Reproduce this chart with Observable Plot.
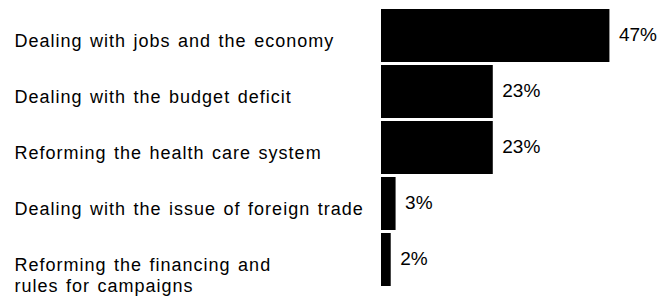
<!DOCTYPE html>
<html>
<head>
<meta charset="utf-8">
<script src="https://cdn.jsdelivr.net/npm/d3@7"></script>
<script src="https://cdn.jsdelivr.net/npm/@observablehq/plot@0.6"></script>
<style>
  html, body { margin: 0; padding: 0; background: #fff; }
</style>
</head>
<body>
<div id="chart"></div>
<script>
const categories = [
  "Dealing with jobs and the economy",
  "Dealing with the budget deficit",
  "Reforming the health care system",
  "Dealing with the issue of foreign trade",
  "Reforming the financing and\nrules for campaigns"
];
const values = [47, 23, 23, 3, 2];
const valueLabels = ["47%", "23%", "23%", "3%", "2%"];

const data = categories.map((c, i) => ({category: c, value: values[i], label: valueLabels[i]}));

const chart = Plot.plot({
  width: 668,
  height: 303,
  marginLeft: 381,
  marginRight: 44,
  marginTop: 7,
  marginBottom: 16,
  style: {fontFamily: "'Liberation Sans', Arial, sans-serif", background: "#fff", color: "#000"},
  x: {domain: [0, 50], axis: null},
  y: {domain: categories, paddingInner: 0.06, paddingOuter: 0, axis: null},
  marks: [
    Plot.barX(data, {y: "category", x: "value", fill: "#000"}),
    Plot.text(data, {
      y: "category", text: "category", frameAnchor: "left", dx: -367,
      textAnchor: "start", lineAnchor: "top", dy: -3.5, lineHeight: 1.15,
      fontSize: 18, fill: "#000", ariaLabel: "labels"
    }),
    Plot.text(data, {
      y: "category", x: "value", text: "label", dx: 9, dy: -1,
      textAnchor: "start", fontSize: 19, fill: "#000", ariaLabel: "values"
    })
  ]
});
document.getElementById("chart").appendChild(chart);
// widen the category labels to match the reference's loose tracking
chart.querySelectorAll("text").forEach(t => {
  const s = t.textContent;
  if (categories.some(c => c.replace("\n", "") === s || c.startsWith(s.slice(0, 10)))) {
    t.style.letterSpacing = "1px";
    t.style.wordSpacing = "1.5px";
  }
});
</script>
</body>
</html>
